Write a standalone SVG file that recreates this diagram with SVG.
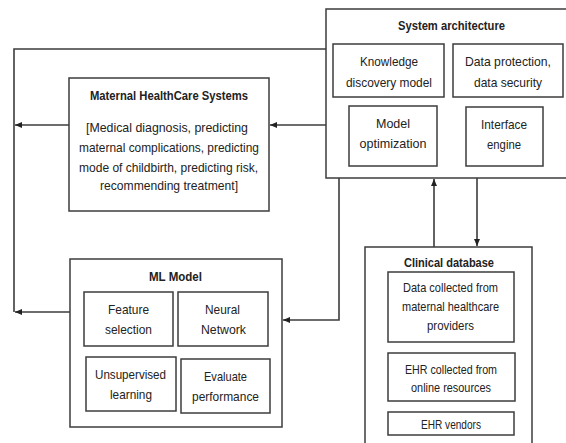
<svg xmlns="http://www.w3.org/2000/svg" width="566" height="443" viewBox="0 0 566 443">
<style>
rect{fill:#fff;stroke:#3c3c3c;stroke-width:1.5}
text{font-family:"Liberation Sans",Arial,sans-serif;font-size:13.5px;fill:#222;text-anchor:middle}
.t{font-weight:bold}
.c{fill:none;stroke:#3c3c3c;stroke-width:1.6}
</style>
<defs>
<marker id="ah" markerUnits="userSpaceOnUse" markerWidth="7" markerHeight="6" refX="7" refY="3" orient="auto">
<path d="M0,0 L7,3 L0,6 z" fill="#222"/>
</marker>
</defs>
<rect x="0" y="0" width="566" height="443" style="stroke:none"/>
<g id="connectors">
<polyline class="c" points="326,49 14,49 14,312"/>
<line class="c" x1="69" y1="125" x2="15" y2="125" marker-end="url(#ah)"/>
<line class="c" x1="326" y1="125" x2="270" y2="125" marker-end="url(#ah)"/>
<line class="c" x1="70" y1="312" x2="15" y2="312" marker-end="url(#ah)"/>
<polyline class="c" points="339,178 339,320 283,320" marker-end="url(#ah)"/>
<line class="c" x1="434" y1="247" x2="434" y2="179" marker-end="url(#ah)"/>
<line class="c" x1="477" y1="178" x2="477" y2="246" marker-end="url(#ah)"/>
</g>
<g id="maternal">
<rect x="69" y="78" width="200" height="133"/>
<text class="t" x="169" y="100" textLength="158" lengthAdjust="spacingAndGlyphs">Maternal HealthCare Systems</text>
<text x="167" y="132" textLength="162" lengthAdjust="spacingAndGlyphs">[Medical diagnosis, predicting</text>
<text x="169" y="152" textLength="180" lengthAdjust="spacingAndGlyphs">maternal complications, predicting</text>
<text x="168.5" y="172" textLength="179" lengthAdjust="spacingAndGlyphs">mode of childbirth, predicting risk,</text>
<text x="169" y="190" textLength="138" lengthAdjust="spacingAndGlyphs">recommending treatment]</text>
</g>
<g id="system-architecture">
<rect x="326" y="9" width="245" height="169"/>
<text class="t" x="451.5" y="30" textLength="107" lengthAdjust="spacingAndGlyphs">System architecture</text>
</g>
<g id="knowledge">
<rect x="333" y="44" width="111" height="53"/>
<text x="389" y="66" textLength="58" lengthAdjust="spacingAndGlyphs">Knowledge</text>
<text x="389" y="87" textLength="86" lengthAdjust="spacingAndGlyphs">discovery model</text>
</g>
<g id="data-protection">
<rect x="453" y="44" width="110" height="53"/>
<text x="508" y="66" textLength="86" lengthAdjust="spacingAndGlyphs">Data protection,</text>
<text x="508" y="87" textLength="68" lengthAdjust="spacingAndGlyphs">data security</text>
</g>
<g id="model-optimization">
<rect x="349" y="106" width="88" height="60"/>
<text x="393" y="128" textLength="34" lengthAdjust="spacingAndGlyphs">Model</text>
<text x="393" y="148" textLength="67" lengthAdjust="spacingAndGlyphs">optimization</text>
</g>
<g id="interface-engine">
<rect x="466" y="107" width="77" height="59"/>
<text x="504" y="129" textLength="46" lengthAdjust="spacingAndGlyphs">Interface</text>
<text x="504" y="149" textLength="34" lengthAdjust="spacingAndGlyphs">engine</text>
</g>
<g id="clinical-database">
<rect x="365" y="247" width="167" height="210"/>
<text class="t" x="449" y="267" textLength="90" lengthAdjust="spacingAndGlyphs">Clinical database</text>
</g>
<g id="data-collected">
<rect x="388" y="272" width="126" height="70"/>
<text x="450.5" y="292" textLength="95" lengthAdjust="spacingAndGlyphs">Data collected from</text>
<text x="450.5" y="311" textLength="97" lengthAdjust="spacingAndGlyphs">maternal healthcare</text>
<text x="450.5" y="330" textLength="47" lengthAdjust="spacingAndGlyphs">providers</text>
</g>
<g id="ehr-collected">
<rect x="388" y="353" width="127" height="48"/>
<text x="451" y="374" textLength="92" lengthAdjust="spacingAndGlyphs">EHR collected from</text>
<text x="451" y="392" textLength="80" lengthAdjust="spacingAndGlyphs">online resources</text>
</g>
<g id="ehr-vendors">
<rect x="388" y="412" width="126" height="23"/>
<text x="451" y="429" textLength="60" lengthAdjust="spacingAndGlyphs">EHR vendors</text>
</g>
<g id="ml-model">
<rect x="70" y="259" width="212" height="168"/>
<text class="t" x="175.5" y="281" textLength="53" lengthAdjust="spacingAndGlyphs">ML Model</text>
</g>
<g id="feature-selection">
<rect x="84" y="292" width="89" height="54"/>
<text x="128.5" y="314" textLength="41" lengthAdjust="spacingAndGlyphs">Feature</text>
<text x="128.5" y="334" textLength="47" lengthAdjust="spacingAndGlyphs">selection</text>
</g>
<g id="neural-network">
<rect x="178" y="292" width="90" height="54"/>
<text x="222.5" y="314" textLength="35" lengthAdjust="spacingAndGlyphs">Neural</text>
<text x="223.5" y="334" textLength="45" lengthAdjust="spacingAndGlyphs">Network</text>
</g>
<g id="unsupervised-learning">
<rect x="86" y="357" width="90" height="54"/>
<text x="130.5" y="379" textLength="71" lengthAdjust="spacingAndGlyphs">Unsupervised</text>
<text x="131" y="399" textLength="42" lengthAdjust="spacingAndGlyphs">learning</text>
</g>
<g id="evaluate-performance">
<rect x="181" y="359" width="89" height="54"/>
<text x="225.5" y="381" textLength="43" lengthAdjust="spacingAndGlyphs">Evaluate</text>
<text x="225.5" y="401" textLength="67" lengthAdjust="spacingAndGlyphs">performance</text>
</g>
</svg>
